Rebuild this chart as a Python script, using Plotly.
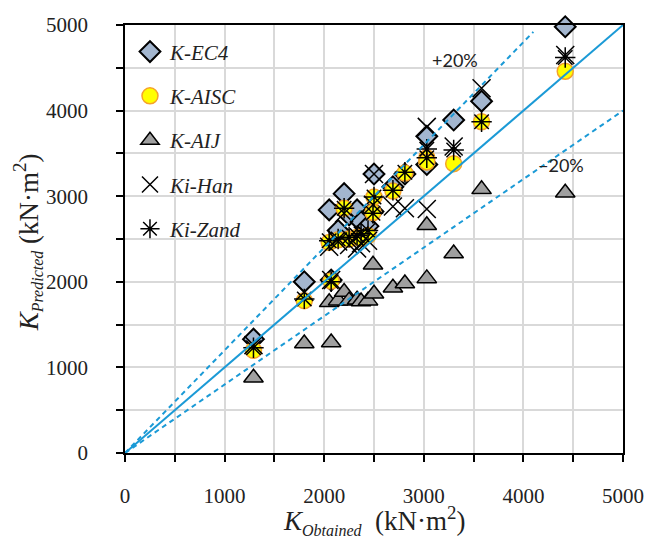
import plotly.graph_objects as go

# Obtained (test) stiffness of each specimen, kN·m²
k_obtained = [1290, 1800, 2070, 2050, 2140, 2200, 2250, 2330, 2370, 2440,
              2500, 2490, 2690, 2810, 3030, 3030, 3300, 3580, 4420]

# Predicted stiffness by each design code / formula, kN·m²
k_ec4 = [1330, 2000, 2020, 2840, 2600, 3030, 2780, 2840, 2700, 2650,
         3260, 2820, 3110, 3260, 3700, 3370, 3890, 4110, 4980]
k_aisc = [1200, 1780, 2010, 2460, 2490, 2860, 2500, 2520, 2510, 2540,
          2990, 2810, 3060, 3270, 3450, 3400, 3380, 3870, 4460]
k_aij = [880, 1280, 1290, 1760, 1780, 1880, 1780, 1790, 1770, 1780,
         1860, 2200, 1930, 1980, 2040, 2660, 2330, 3080, 3040]
ki_han = [1260, 1880, 2020, 2410, 2470, 2800, 2430, 2390, 2450, 2480,
          3260, 2900, 2880, 2860, 3810, 2850, 3580, 4260, 4650]
ki_zand = [1230, 1800, 2000, 2480, 2500, 2860, 2520, 2540, 2560, 2600,
           2990, 2800, 3070, 3280, 3550, 3450, 3540, 3870, 4620]

# Reference lines: perfect agreement and ±20 %
line_x = [0, 5000]
upper_x = [0, 4100]
lower_x = [0, 5000]

tick_vals = [0, 1000, 2000, 3000, 4000, 5000]

SERIF = "Liberation Serif"
BLUE = "#1b9ad6"
INK = "#222"

fig = go.Figure()

series = [
    ("K-EC4", k_ec4, dict(symbol="diamond", size=16, color="#a3b6cf",
                          line=dict(color="black", width=2))),
    ("K-AISC", k_aisc, dict(symbol="circle", size=16, color="#ffff00",
                            line=dict(color="#f5a22a", width=1.5))),
    ("K-AIJ", k_aij, dict(symbol="triangle-up", size=17, color="#a0a0a0",
                          line=dict(color="black", width=1.5))),
    ("Ki-Han", ki_han, dict(symbol="x-thin-open", size=18, color="black",
                            line=dict(color="black", width=1.5))),
    ("Ki-Zand", ki_zand, dict(symbol="asterisk-open", size=17, color="black",
                              line=dict(color="black", width=1.5))),
]

for i, (name, ys, marker) in enumerate(series):
    fig.add_trace(go.Scatter(
        x=k_obtained, y=ys, mode="markers", name=f"<i>{name}</i>",
        marker=marker, legendgroup=f"g{i}", cliponaxis=False,
    ))

fig.add_trace(go.Scatter(x=line_x, y=line_x, mode="lines", showlegend=False,
                         line=dict(color=BLUE, width=2)))
fig.add_trace(go.Scatter(x=upper_x, y=[1.2 * v for v in upper_x], mode="lines",
                         showlegend=False,
                         line=dict(color=BLUE, width=2, dash="5px,4px")))
fig.add_trace(go.Scatter(x=lower_x, y=[0.8 * v for v in lower_x], mode="lines",
                         showlegend=False,
                         line=dict(color=BLUE, width=2, dash="5px,4px")))

axis_common = dict(
    range=[0, 5000], tickvals=tick_vals, ticks="outside", ticklen=7,
    tickcolor="black", tickwidth=1.5,
    showline=True, linecolor="black", linewidth=1.5, mirror=True,
    showgrid=True, gridcolor="#d9d9d9", gridwidth=1.5,
    minor=dict(dtick=500, ticks="outside", ticklen=7, tickcolor="black",
               showgrid=True, gridcolor="#d9d9d9", gridwidth=1.5),
    zeroline=False, tickfont=dict(family=SERIF, size=21, color=INK),
    fixedrange=True,
)

fig.update_layout(
    width=656, height=543,
    margin=dict(l=125, r=29, t=25, b=90),
    plot_bgcolor="white", paper_bgcolor="white",
    xaxis=dict(axis_common, ticklabelstandoff=16),
    yaxis=dict(axis_common, ticklabelstandoff=24),
    legend=dict(x=0.01, y=0.985, xanchor="left", yanchor="top",
                bgcolor="rgba(0,0,0,0)", tracegroupgap=14,
                font=dict(family=SERIF, size=21, color=INK),
                itemwidth=30),
    showlegend=True,
)

sub_style = "font-size:16px"
x_title = (f"<i>K</i><sub><i><span style='{sub_style}'>Obtained</span></i></sub>"
           "  (kN·m<sup>2</sup>)")
y_title = (f"<i>K</i><sub><i><span style='{sub_style}'>Predicted</span></i></sub>"
           " (kN·m<sup>2</sup>)")

fig.add_annotation(xref="paper", yref="paper", x=0.5, y=-0.158,
                   xanchor="center", yanchor="middle", text=x_title,
                   showarrow=False, font=dict(family=SERIF, size=27, color=INK))
fig.add_annotation(xref="paper", yref="paper", x=-0.195, y=0.492,
                   xanchor="center", yanchor="middle", text=y_title,
                   textangle=-90, showarrow=False,
                   font=dict(family=SERIF, size=27, color=INK))

fig.add_annotation(x=3310, y=4590, text="+20%", showarrow=False,
                   font=dict(family="Lato", size=18, color=INK))
fig.add_annotation(x=4380, y=3360, text="\u221220%", showarrow=False,
                   font=dict(family="Lato", size=18, color=INK))

fig.write_html("out.html")
